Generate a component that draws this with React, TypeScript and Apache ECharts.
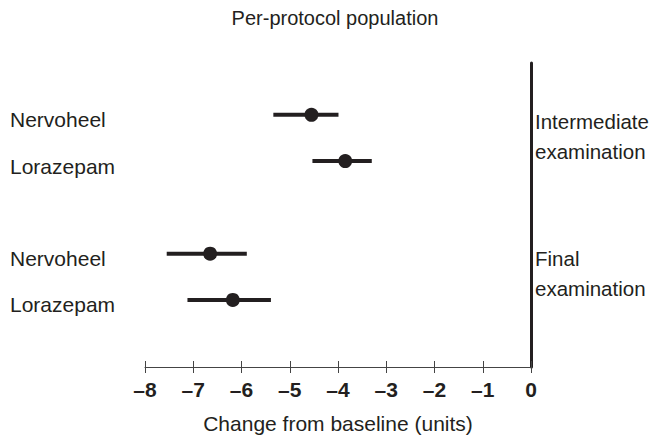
import React, { useEffect, useRef } from "react";
import * as echarts from "echarts";

const rowNames = ["Nervoheel", "Lorazepam", "Nervoheel", "Lorazepam"];
const rowPositions = [1, 2, 4, 5];
const estimates = [-4.55, -3.85, -6.65, -6.18];
const ciLower = [-5.34, -4.53, -7.55, -7.12];
const ciUpper = [-3.99, -3.3, -5.89, -5.39];
const groupNames = ["Intermediate\nexamination", "Final\nexamination"];
const groupPositions = [1.46, 4.43];
const xTicks = [-8, -7, -6, -5, -4, -3, -2, -1, 0];

const INK = "#231f20";
const FONT = '"Liberation Sans", Arial, Helvetica, sans-serif';

export default function App() {
  const ref = useRef<HTMLDivElement>(null);
  useEffect(() => {
    if (!ref.current) return;
    const chart = echarts.init(ref.current, undefined, { renderer: "svg" });
    const xMin = xTicks[0];
    const xMax = xTicks[xTicks.length - 1];
    chart.setOption({
      animation: false,
      backgroundColor: "#ffffff",
      textStyle: { fontFamily: FONT },
      graphic: [
        {
          type: "text",
          x: 335,
          y: 18,
          style: {
            text: "Per-protocol population",
            align: "center",
            verticalAlign: "middle",
            fontSize: 20,
            fontFamily: FONT,
            fill: INK,
          },
        },
      ],
      grid: {
        left: 145,
        right: 123,
        top: 63,
        bottom: 71,
        containLabel: false,
        outerBoundsMode: "none",
      },
      xAxis: [
        {
          type: "value",
          min: xMin,
          max: xMax,
          interval: 1,
          position: "bottom",
          axisLine: { onZero: false, lineStyle: { color: "#444", width: 1 } },
          axisTick: { show: true, length: 6, lineStyle: { color: "#444", width: 1 } },
          splitLine: { show: false },
          axisLabel: {
            margin: 12,
            fontSize: 21,
            fontWeight: "bold",
            color: INK,
            fontFamily: FONT,
            formatter: (v: number) => (v < 0 ? "\u2013" + Math.abs(v) : String(v)),
          },
          name: "Change from baseline (units)",
          nameLocation: "middle",
          nameGap: 46,
          nameTextStyle: { fontSize: 21, color: INK, fontFamily: FONT },
        },
        {
          type: "value",
          min: xMin,
          max: xMax,
          interval: 1,
          position: "bottom",
          axisLine: { show: false, onZero: false },
          axisTick: { show: true, inside: true, length: 6, lineStyle: { color: "#444", width: 1 } },
          splitLine: { show: false },
          axisLabel: { show: false },
        },
      ],
      yAxis: [
        {
          type: "value",
          inverse: true,
          min: -0.12,
          max: 6.45,
          position: "right",
          axisLine: { show: true, onZero: false, lineStyle: { color: INK, width: 3 } },
          axisTick: { show: false },
          splitLine: { show: false },
          axisLabel: {
            customValues: groupPositions,
            formatter: (v: number) => groupNames[groupPositions.indexOf(v)] ?? "",
            align: "left",
            margin: 4,
            fontSize: 20.5,
            lineHeight: 30,
            color: INK,
            fontFamily: FONT,
          },
        },
        {
          type: "value",
          inverse: true,
          min: -0.12,
          max: 6.45,
          position: "left",
          axisLine: { show: false },
          axisTick: { show: false },
          splitLine: { show: false },
          axisLabel: {
            customValues: rowPositions,
            formatter: (v: number) => rowNames[rowPositions.indexOf(v)] ?? "",
            align: "left",
            verticalAlign: "top",
            lineHeight: 10,
            margin: 135,
            fontSize: 21,
            color: INK,
            fontFamily: FONT,
          },
        },
      ],
      series: [
        {
          type: "custom",
          xAxisIndex: 0,
          yAxisIndex: 0,
          encode: { x: [0, 1], y: 2 },
          data: rowPositions.map((p, i) => [ciLower[i], ciUpper[i], p]),
          renderItem: (params: any, api: any) => {
            const a = api.coord([api.value(0), api.value(2)]);
            const b = api.coord([api.value(1), api.value(2)]);
            return {
              type: "line",
              shape: { x1: a[0], y1: a[1], x2: b[0], y2: b[1] },
              style: { stroke: INK, lineWidth: 4 },
            };
          },
          silent: true,
        },
        {
          type: "scatter",
          xAxisIndex: 0,
          yAxisIndex: 0,
          symbol: "circle",
          symbolSize: 14,
          itemStyle: { color: INK, opacity: 1 },
          data: rowPositions.map((p, i) => [estimates[i], p]),
          silent: true,
        },
      ],
    });
    return () => chart.dispose();
  }, []);
  return (
    <div
      ref={ref}
      style={{ position: "fixed", left: 0, top: 0, width: 654, height: 438 }}
    />
  );
}
